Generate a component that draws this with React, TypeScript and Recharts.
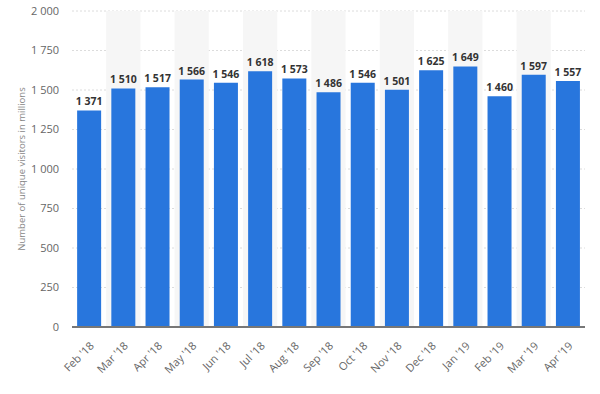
import { BarChart, Bar, XAxis, YAxis, CartesianGrid, LabelList, ReferenceArea } from "recharts";

document.body.style.margin = "0";

const months = [
  "Feb '18", "Mar '18", "Apr '18", "May '18", "Jun '18", "Jul '18", "Aug '18", "Sep '18",
  "Oct '18", "Nov '18", "Dec '18", "Jan '19", "Feb '19", "Mar '19", "Apr '19",
];
const visitors = [1371, 1510, 1517, 1566, 1546, 1618, 1573, 1486, 1546, 1501, 1625, 1649, 1460, 1597, 1557];
const yTicks = [0, 250, 500, 750, 1000, 1250, 1500, 1750, 2000];

const data = months.map((month, i) => ({ month, visitors: visitors[i] }));

// non-breaking space as thousands separator, like "1 750"
const fmt = (v: number | string) => {
  const s = String(v);
  return s.length > 3 ? s.slice(0, -3) + "\u00a0" + s.slice(-3) : s;
};

const font = "'Open Sans', Arial, sans-serif";

export default function App() {
  return (
    <BarChart
      width={600}
      height={394}
      data={data}
      margin={{ top: 11, right: 15, bottom: 0, left: 0 }}
      barCategoryGap="15%"
      style={{ fontFamily: font }}
    >
      {months
        .filter((_, i) => i % 2 === 1)
        .map((m) => (
          <ReferenceArea key={m} x1={m} x2={m} fill="#f6f6f6" fillOpacity={1} stroke="none" />
        ))}
      <CartesianGrid vertical={false} stroke="#dcdcdc" strokeDasharray="2 2" />
      <XAxis
        dataKey="month"
        interval={0}
        angle={-45}
        textAnchor="end"
        height={67}
        tickLine={false}
        axisLine={{ stroke: "#777", strokeWidth: 2 }}
        tick={{ fill: "#666", fontSize: 11 }}
        tickMargin={8}
      />
      <YAxis
        width={72}
        domain={[0, 2000]}
        ticks={yTicks}
        tickFormatter={fmt}
        axisLine={false}
        tickLine={false}
        tickMargin={7}
        tick={{ fill: "#666", fontSize: 11 }}
        label={{
          value: "Number of unique visitors in millions",
          angle: -90,
          position: "insideLeft",
          offset: 22,
          style: { fill: "#888", fontSize: 9.5, textAnchor: "middle" },
        }}
      />
      <Bar dataKey="visitors" fill="#2876dd" isAnimationActive={false}>
        <LabelList
          dataKey="visitors"
          position="top"
          formatter={fmt}
          style={{ fill: "#333", fontSize: 10.5, fontWeight: 700 }}
        />
      </Bar>
    </BarChart>
  );
}
